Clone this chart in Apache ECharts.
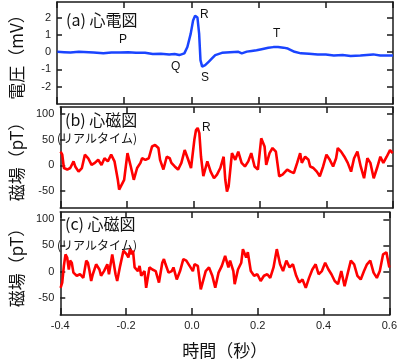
<!DOCTYPE html>
<html><head><meta charset="utf-8">
<script src="https://cdn.jsdelivr.net/npm/echarts@6/dist/echarts.min.js"></script>
<style>html,body{margin:0;padding:0;background:#fff}#c{width:400px;height:360px}</style>
</head><body><div id="c"></div>
<script>
// ---- data ----
const xTickLabels = [-0.4, -0.2, 0.0, 0.2, 0.4, 0.6];
const ecgTicks = [-2, -1, 0, 1, 2];
const mcgTicks = [-50, 0, 50, 100];
const ecgTime = [-0.399,-0.379,-0.360,-0.335,-0.291,-0.262,-0.238,-0.213,-0.188,-0.165,-0.138,-0.115,-0.091,-0.066,-0.050,-0.036,-0.021,-0.012,-0.002,0.005,0.011,0.018,0.023,0.027,0.032,0.041,0.052,0.062,0.071,0.091,0.115,0.140,0.150,0.165,0.179,0.194,0.209,0.229,0.244,0.258,0.274,0.287,0.307,0.326,0.350,0.376,0.400,0.424,0.450,0.474,0.503,0.541,0.562,0.600];
const ecgValue = [0.02,0,-0.02,0.02,-0.02,-0.07,-0.02,-0.02,0,-0.04,-0.03,-0.11,-0.09,-0.13,-0.11,-0.17,-0.07,0.3,1.07,1.83,2.1,2.0,1.07,-0.46,-0.84,-0.75,-0.55,-0.35,-0.17,-0.04,0,0.02,-0.07,0.03,0.07,0.11,0.17,0.25,0.29,0.3,0.26,0.21,0.02,-0.07,-0.09,-0.13,-0.14,-0.19,-0.17,-0.23,-0.2,-0.13,-0.2,-0.19];
const mcgB = [[-0.399,27],[-0.394,21],[-0.389,-5],[-0.379,-8],[-0.370,-5],[-0.360,8],[-0.355,-2],[-0.345,-12],[-0.335,-5],[-0.326,21],[-0.316,14],[-0.306,1],[-0.296,5],[-0.286,11],[-0.276,1],[-0.267,14],[-0.257,8],[-0.247,21],[-0.237,8],[-0.227,-28],[-0.223,-47],[-0.218,-44],[-0.208,-28],[-0.198,24],[-0.188,-2],[-0.179,-28],[-0.169,-5],[-0.159,5],[-0.154,14],[-0.144,11],[-0.134,14],[-0.124,37],[-0.115,40],[-0.105,34],[-0.100,11],[-0.090,-8],[-0.080,17],[-0.071,14],[-0.066,5],[-0.056,-2],[-0.046,-8],[-0.036,5],[-0.026,30],[-0.017,14],[-0.007,-5],[0.003,50],[0.008,69],[0.013,73],[0.018,63],[0.023,17],[0.030,-21],[0.042,8],[0.052,-12],[0.062,-25],[0.071,-18],[0.081,-5],[0.091,17],[0.096,-28],[0.101,-51],[0.106,-41],[0.116,24],[0.126,11],[0.135,27],[0.145,5],[0.155,-2],[0.165,8],[0.174,24],[0.184,-2],[0.194,-8],[0.204,53],[0.214,37],[0.219,1],[0.229,24],[0.238,34],[0.248,27],[0.258,-21],[0.268,-18],[0.282,-8],[0.292,-12],[0.302,-15],[0.312,5],[0.321,24],[0.326,5],[0.336,17],[0.346,11],[0.351,-2],[0.361,-5],[0.371,-12],[0.380,-21],[0.390,-2],[0.400,21],[0.410,11],[0.420,-2],[0.429,14],[0.434,34],[0.444,27],[0.454,17],[0.464,5],[0.474,-12],[0.483,14],[0.493,27],[0.503,-2],[0.513,-25],[0.523,14],[0.532,5],[0.542,-25],[0.552,-5],[0.562,17],[0.571,5],[0.581,17],[0.591,30],[0.599,24]];
const mcgC = [[-0.399,-31],[-0.394,-21],[-0.389,11],[-0.384,33],[-0.379,27],[-0.374,4],[-0.370,21],[-0.365,17],[-0.360,-2],[-0.350,-8],[-0.340,-5],[-0.330,-12],[-0.321,21],[-0.316,17],[-0.311,1],[-0.306,-18],[-0.301,-5],[-0.291,14],[-0.281,4],[-0.276,-8],[-0.267,1],[-0.257,14],[-0.252,-5],[-0.242,33],[-0.237,14],[-0.232,-5],[-0.227,-18],[-0.218,11],[-0.208,40],[-0.198,33],[-0.193,27],[-0.188,43],[-0.183,33],[-0.179,40],[-0.174,8],[-0.164,1],[-0.159,11],[-0.154,-8],[-0.144,1],[-0.139,-31],[-0.129,8],[-0.120,4],[-0.110,1],[-0.100,-21],[-0.090,17],[-0.085,24],[-0.080,14],[-0.071,-2],[-0.061,1],[-0.056,8],[-0.046,-15],[-0.036,1],[-0.026,24],[-0.017,21],[-0.007,11],[0.003,1],[0.008,14],[0.018,11],[0.027,-34],[0.032,-37],[0.042,1],[0.052,8],[0.062,-8],[0.071,-31],[0.081,-2],[0.091,11],[0.101,30],[0.111,8],[0.116,21],[0.126,1],[0.130,-24],[0.140,4],[0.150,17],[0.155,43],[0.165,27],[0.170,37],[0.179,1],[0.189,-8],[0.199,-5],[0.209,-18],[0.219,-8],[0.229,-5],[0.238,-12],[0.248,8],[0.258,43],[0.268,14],[0.277,1],[0.287,21],[0.297,8],[0.307,14],[0.317,-8],[0.326,-21],[0.336,-15],[0.346,-31],[0.356,-12],[0.366,4],[0.376,14],[0.385,-5],[0.395,1],[0.405,17],[0.415,4],[0.424,-5],[0.434,-18],[0.444,-24],[0.454,1],[0.464,-28],[0.474,-2],[0.483,21],[0.493,14],[0.503,-8],[0.513,-15],[0.523,1],[0.532,14],[0.542,21],[0.552,-2],[0.562,-12],[0.571,1],[0.581,33],[0.591,37],[0.600,8]];

// ---- chart ----
const chart = echarts.init(document.getElementById('c'));
const AX = '#1a1a1a';
const LBL = {fontFamily: 'Liberation Sans', fontSize: 11, color: '#222'};
const CJK = 'Noto Sans CJK JP';
const grids = [
  {left: 53, top: 2, width: 340, height: 102},
  {left: 53, top: 107, width: 340, height: 101},
  {left: 53, top: 212, width: 340, height: 103}
];
const xAxes = [], yAxes = [];
grids.forEach((g, i) => {
  const last = i === 2;
  xAxes.push({type: 'value', gridIndex: i, position: 'bottom', min: -0.4, max: 0.6, interval: 0.2,
    axisLine: {onZero: false, lineStyle: {color: AX, width: 1.5}},
    axisTick: {inside: true, length: 7, lineStyle: {color: AX, width: 1.5}},
    axisLabel: last ? Object.assign({show: true, margin: 5, formatter: v => v.toFixed(1)}, LBL) : {show: false},
    splitLine: {show: false},
    name: last ? '時間（秒）' : '', nameLocation: 'middle', nameGap: 27,
    nameTextStyle: {fontFamily: CJK, fontSize: 17, color: '#111'}});
  xAxes.push({type: 'value', gridIndex: i, position: 'top', min: -0.4, max: 0.6, interval: 0.2,
    axisLine: {onZero: false, lineStyle: {color: AX, width: 1.5}},
    axisTick: {inside: true, length: 6, lineStyle: {color: AX, width: 1.5}},
    axisLabel: {show: false}, splitLine: {show: false}});
  const isEcg = i === 0;
  const rng = isEcg ? {min: -3, max: 2.9} : {min: -83, max: 114};
  const ticks = isEcg ? ecgTicks : mcgTicks;
  yAxes.push(Object.assign({type: 'value', gridIndex: i, position: 'left',
    axisLine: {show: true, onZero: false, lineStyle: {color: AX, width: 1.5}},
    axisTick: {show: true, inside: true, length: 5, customValues: ticks, lineStyle: {color: AX, width: 1.5}},
    axisLabel: Object.assign({show: true, margin: 6, customValues: ticks}, LBL),
    splitLine: {show: false},
    name: isEcg ? '電圧（mV）' : '磁場（pT）', nameLocation: 'middle', nameRotate: 90, nameGap: 32,
    nameTextStyle: {fontFamily: CJK, fontSize: 17, color: '#111'}}, rng));
  yAxes.push(Object.assign({type: 'value', gridIndex: i, position: 'right',
    axisLine: {show: true, onZero: false, lineStyle: {color: AX, width: 1.5}},
    axisTick: {show: true, inside: true, length: 6, customValues: ticks, lineStyle: {color: AX, width: 1.5}},
    axisLabel: {show: false}, splitLine: {show: false}}, rng));
});

const zip = (a, b) => a.map((t, k) => [t, b[k]]);
const txt = (x, y, s, size, font) => ({type: 'text', left: x, top: y,
  style: {text: s, fontSize: size, fontFamily: font || CJK, fill: '#111', textVerticalAlign: 'middle'}});

chart.setOption({
  animation: false,
  backgroundColor: '#fff',
  grid: grids,
  xAxis: xAxes,
  yAxis: yAxes,
  series: [
    {type: 'line', xAxisIndex: 0, yAxisIndex: 0, data: zip(ecgTime, ecgValue), showSymbol: false,
      lineStyle: {color: '#1a44ff', width: 2.5}},
    {type: 'line', xAxisIndex: 2, yAxisIndex: 2, data: mcgB, showSymbol: false,
      lineStyle: {color: '#ff0000', width: 2.6}},
    {type: 'line', xAxisIndex: 4, yAxisIndex: 4, data: mcgC, showSymbol: false,
      lineStyle: {color: '#ff0000', width: 2.6}}
  ],
  graphic: [
    txt(66, 12, '(a) 心電図', 16),
    txt(65, 112, '(b) 心磁図', 16),
    txt(57, 132, '(リアルタイム)', 12),
    txt(65, 216, '(c) 心磁図', 16),
    txt(57, 239, '(リアルタイム)', 12),
    txt(119, 34, 'P', 12, 'Liberation Sans'),
    txt(171, 61, 'Q', 12, 'Liberation Sans'),
    txt(200, 9, 'R', 12, 'Liberation Sans'),
    txt(201, 72, 'S', 12, 'Liberation Sans'),
    txt(273, 28, 'T', 12, 'Liberation Sans'),
    txt(202, 122, 'R', 12, 'Liberation Sans')
  ]
});
</script></body></html>
